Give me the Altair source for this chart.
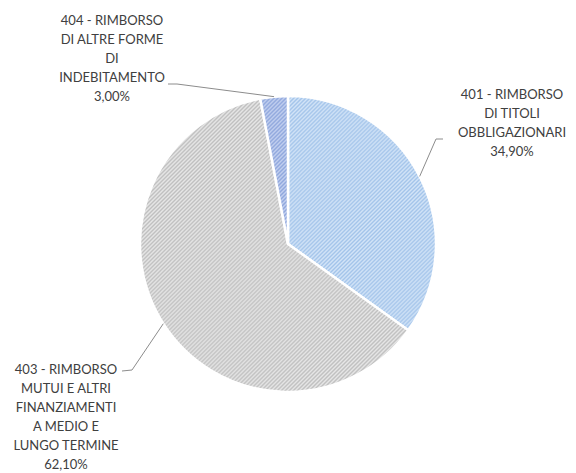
import altair as alt
import pandas as pd
import numpy as np

# ---- data ----
codes = ["401", "403", "404"]
names = [
    "401 - RIMBORSO\nDI TITOLI\nOBBLIGAZIONARI",
    "403 - RIMBORSO\nMUTUI E ALTRI\nFINANZIAMENTI\nA MEDIO E\nLUNGO TERMINE",
    "404 - RIMBORSO\nDI ALTRE FORME\nDI\nINDEBITAMENTO",
]
shares = [34.90, 62.10, 3.00]
pct_text = ["34,90%", "62,10%", "3,00%"]

# ---- style / layout ----
stripe_dark = {"401": "#a3c4ea", "403": "#c0c0c0", "404": "#8ea6dc"}
stripe_light = {"401": "#d3e4f7", "403": "#e6e6e6", "404": "#c4d1f0"}
STRIPE_P = 2.83  # perpendicular period of the hatching, px
W, H = 560, 465
CX, CY, R = 280, 236, 148
label_xy = {"401": (504, 87), "403": (58, 362), "404": (104, 13)}
leader_pts = {
    "401": [(428, 131), (435, 131)],
    "403": [(124, 362), (114, 363)],
    "404": [(169, 76), (160, 76)],
}

df_pie = pd.DataFrame({"code": codes, "share": shares, "ord": range(len(codes))})

total = sum(shares)
cum = np.cumsum([0] + shares[:-1])
a0s = [2 * np.pi * c / total for c in cum]
a1s = [2 * np.pi * (c + s) / total for c, s in zip(cum, shares)]
mid = [(a + b) / 2 for a, b in zip(a0s, a1s)]


def pt(a):
    return (CX + R * np.sin(a), CY - R * np.cos(a))


def hatch(code, a0, a1):
    pts = [(CX, CY), pt(a0), pt(a1)]
    for k in range(5):
        a = k * np.pi / 2
        if a0 < a < a1:
            pts.append(pt(a))
    xs_ = [p[0] for p in pts]
    ys_ = [p[1] for p in pts]
    w = max(max(xs_) - min(xs_), 1.0)
    h = max(max(ys_) - min(ys_), 1.0)
    k = (w + h) * w / (w * w + h * h)
    n = int(round((w + h) / (np.sqrt(2) * STRIPE_P)))
    stops = []
    for j in range(n):
        stops.append({"offset": j / n, "color": stripe_dark[code]})
        stops.append({"offset": (j + 0.5) / n, "color": stripe_light[code]})
    stops.append({"offset": 1.0, "color": stripe_dark[code]})
    return {"gradient": "linear", "x1": 0, "y1": 0, "x2": k, "y2": k * h / w,
            "stops": stops}


grads = {c: hatch(c, a, b) for c, a, b in zip(codes, a0s, a1s)}

rows = []
for code, a in zip(codes, mid):
    pts = [pt(a)] + leader_pts[code]
    for i, (px, py) in enumerate(pts):
        rows.append({"code": code, "i": i, "px": px, "py": py})
df_lines = pd.DataFrame(rows)

df_text = pd.DataFrame({
    "code": codes,
    "txt": [n + "\n" + p for n, p in zip(names, pct_text)],
    "px": [label_xy[c][0] for c in codes],
    "py": [label_xy[c][1] for c in codes],
})

xs = alt.Scale(domain=[0, W], range=[0, W])
ys = alt.Scale(domain=[0, H], range=[0, H])

fill = (
    alt.when(alt.datum.code == "401").then(alt.value(grads["401"]))
    .when(alt.datum.code == "403").then(alt.value(grads["403"]))
    .otherwise(alt.value(grads["404"]))
)

pie = alt.Chart(df_pie).mark_arc(outerRadius=R, stroke="white", strokeWidth=2.5).encode(
    theta=alt.Theta("share:Q", stack=True),
    fill=fill,
    order=alt.Order("ord:Q"),
    x=alt.value(CX),
    y=alt.value(CY),
)

lines = alt.Chart(df_lines).mark_line(color="#8c8c8c", strokeWidth=1).encode(
    x=alt.X("px:Q", scale=xs, axis=None),
    y=alt.Y("py:Q", scale=ys, axis=None),
    detail="code:N",
    order="i:Q",
)

text = alt.Chart(df_text).mark_text(
    font="Lato", fontSize=13, color="#404040", align="center",
    baseline="middle", lineBreak="\n", lineHeight=19,
).encode(
    x=alt.X("px:Q", scale=xs, axis=None),
    y=alt.Y("py:Q", scale=ys, axis=None),
    text="txt:N",
)

chart = alt.layer(pie, lines, text).properties(
    width=W, height=H, padding=0,
    autosize=alt.AutoSizeParams(type="none"),
).configure_view(strokeWidth=0)

chart.save("out.html", embed_options={"renderer": "svg", "actions": False})
